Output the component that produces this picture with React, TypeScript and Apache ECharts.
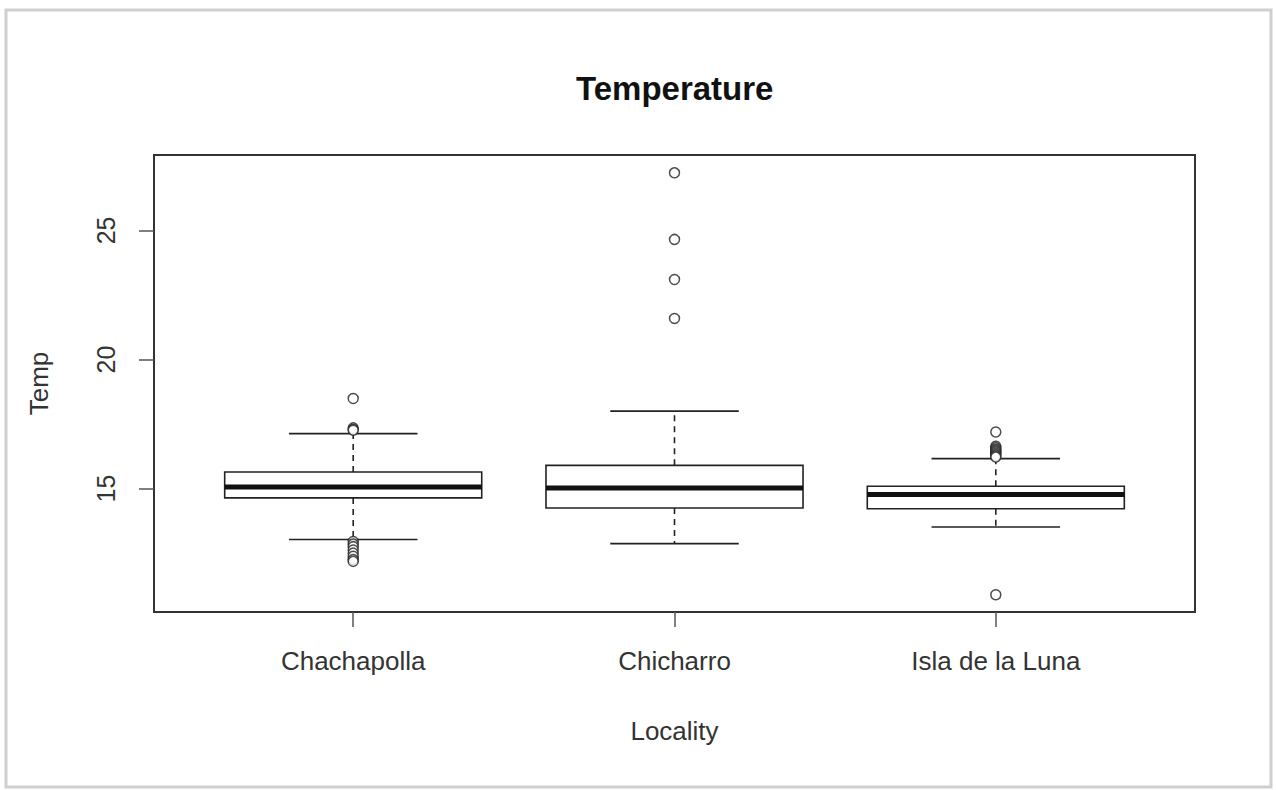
import React, { useEffect, useRef } from "react";
import * as echarts from "echarts";

const categories = ["Chachapolla", "Chicharro", "Isla de la Luna"];
const lowerWhisker = [13.03, 12.87, 13.51];
const q1 = [14.64, 14.25, 14.22];
const median = [15.06, 15.02, 14.77];
const q3 = [15.64, 15.9, 15.09];
const upperWhisker = [17.13, 18.0, 16.16];
const outliersChachapolla = [18.49, 17.35, 17.3, 17.26, 12.95, 12.85, 12.75, 12.62, 12.5, 12.38, 12.25, 12.18];
const outliersChicharro = [27.23, 24.65, 23.1, 21.59];
const outliersIsla = [17.19, 16.64, 16.58, 16.52, 16.47, 16.42, 16.36, 16.31, 16.26, 16.22, 10.89];
const yTicks = [15, 20, 25];
const xTicks = [1, 2, 3];

const outlierLists = [outliersChachapolla, outliersChicharro, outliersIsla];

export default function App() {
  const ref = useRef<HTMLDivElement>(null);
  useEffect(() => {
    if (!ref.current) return;
    const chart = echarts.init(ref.current, undefined, { renderer: "svg" });
    const boxData = categories.map((_, i) => [
      i + 1,
      lowerWhisker[i],
      q1[i],
      median[i],
      q3[i],
      upperWhisker[i],
    ]);
    const outlierData: number[][] = [];
    outlierLists.forEach((list, i) => list.forEach((v) => outlierData.push([i + 1, v])));
    const lineColor = "#222";
    const option: any = {
      animation: false,
      backgroundColor: "#fff",
      title: {
        text: "Temperature",
        left: 571,
        top: 67,
        textStyle: { fontFamily: "Liberation Sans", fontSize: 33, fontWeight: "bold", color: "#111" },
      },
      grid: {
        left: 154,
        top: 155,
        right: 81,
        bottom: 178,
        show: true,
        borderColor: "#333",
        borderWidth: 2,
        backgroundColor: "transparent",
      },
      xAxis: {
        type: "value",
        min: 0.38,
        max: 3.62,
        name: "Locality",
        nameLocation: "middle",
        nameGap: 106,
        nameTextStyle: { fontFamily: "Liberation Sans", fontSize: 26, color: "#333" },
        axisLine: { show: false },
        splitLine: { show: false },
        axisTick: { show: true, customValues: xTicks, length: 15, inside: false, lineStyle: { color: "#555", width: 1.5 } },
        axisLabel: {
          customValues: xTicks,
          formatter: (v: number) => categories[Math.round(v) - 1] ?? "",
          fontFamily: "Liberation Sans",
          fontSize: 26,
          color: "#333",
          margin: 36,
        },
      },
      yAxis: {
        type: "value",
        min: 10.22,
        max: 27.92,
        name: "Temp",
        nameLocation: "middle",
        nameGap: 102,
        nameRotate: 90,
        nameTextStyle: { fontFamily: "Liberation Sans", fontSize: 26, color: "#333" },
        axisLine: { show: false },
        splitLine: { show: false },
        axisTick: { show: true, customValues: yTicks, length: 15, inside: false, lineStyle: { color: "#555", width: 1.5 } },
        axisLabel: {
          customValues: yTicks,
          rotate: 90,
          fontFamily: "Liberation Sans",
          fontSize: 25,
          color: "#333",
          margin: 36,
        },
      },
      graphic: [
        {
          type: "rect",
          shape: { x: 6, y: 10, width: 1265, height: 777 },
          style: { fill: "none", stroke: "#cfcfcf", lineWidth: 3 },
          silent: true,
          z: -1,
        },
      ],
      series: [
        {
          type: "custom",
          data: boxData,
          encode: { x: 0, y: [1, 2, 3, 4, 5] },
          renderItem: (params: any, api: any) => {
            const x = api.value(0);
            const lw = api.value(1);
            const a = api.value(2);
            const m = api.value(3);
            const b = api.value(4);
            const uw = api.value(5);
            const boxL = api.coord([x - 0.4, b]);
            const boxR = api.coord([x + 0.4, a]);
            const c = (xx: number, yy: number) => api.coord([xx, yy]);
            const stroke = { stroke: lineColor, lineWidth: 1.6, fill: "none" };
            const dash = { stroke: lineColor, lineWidth: 1.6, lineDash: [6, 5] };
            const children: any[] = [
              { type: "line", shape: { x1: c(x, b)[0], y1: c(x, b)[1], x2: c(x, uw)[0], y2: c(x, uw)[1] }, style: dash },
              { type: "line", shape: { x1: c(x, a)[0], y1: c(x, a)[1], x2: c(x, lw)[0], y2: c(x, lw)[1] }, style: dash },
              { type: "line", shape: { x1: c(x - 0.2, uw)[0], y1: c(x - 0.2, uw)[1], x2: c(x + 0.2, uw)[0], y2: c(x + 0.2, uw)[1] }, style: stroke },
              { type: "line", shape: { x1: c(x - 0.2, lw)[0], y1: c(x - 0.2, lw)[1], x2: c(x + 0.2, lw)[0], y2: c(x + 0.2, lw)[1] }, style: stroke },
              {
                type: "rect",
                shape: { x: boxL[0], y: boxL[1], width: boxR[0] - boxL[0], height: boxR[1] - boxL[1] },
                style: { fill: "#fff", stroke: lineColor, lineWidth: 1.6 },
              },
              { type: "line", shape: { x1: c(x - 0.4, m)[0], y1: c(x - 0.4, m)[1], x2: c(x + 0.4, m)[0], y2: c(x + 0.4, m)[1] }, style: { stroke: "#111", lineWidth: 5 } },
            ];
            return { type: "group", children };
          },
          z: 2,
        },
        {
          type: "scatter",
          data: outlierData,
          symbol: "circle",
          symbolSize: 10,
          itemStyle: { color: "#fff", borderColor: "#222", borderWidth: 1.5 },
          z: 3,
        },
      ],
    };
    chart.setOption(option);
    return () => chart.dispose();
  }, []);
  return (
    <div
      ref={ref}
      style={{ position: "fixed", left: 0, top: 0, width: 1276, height: 790 }}
    />
  );
}
